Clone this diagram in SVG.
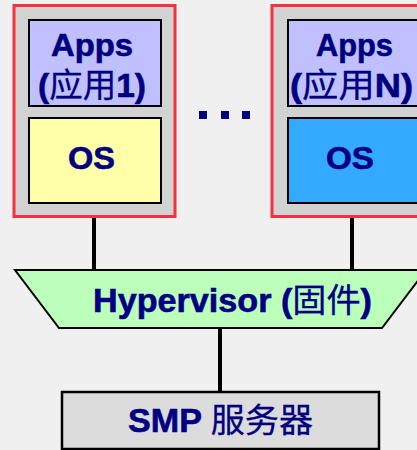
<svg xmlns="http://www.w3.org/2000/svg" width="417" height="450" viewBox="0 0 417 450">
<style>
.bg{fill:#f0f0f0}
.vm{fill:#d2d2d2;stroke:#f5303f;stroke-width:3}
.box{stroke:#000;stroke-width:2}
.apps{fill:#c0c0ff}
.t{font-family:"Liberation Sans","Noto Sans CJK SC",sans-serif;font-weight:bold;fill:#000080;stroke:#000080;stroke-width:0.6}
.cjk{font-family:"Noto Sans CJK SC",sans-serif;font-weight:normal;stroke-width:0.3}
.conn{stroke:#000;stroke-width:4;fill:none}
</style>
<rect class="bg" x="0" y="0" width="417" height="450"/>
<g id="connectors">
<line class="conn" x1="94" y1="217" x2="94" y2="271"/>
<line class="conn" x1="352" y1="217" x2="352" y2="271"/>
<line class="conn" x1="220" y1="328" x2="220" y2="392"/>
</g>
<g id="vm1">
<rect class="vm" x="14" y="5.5" width="161" height="211"/>
<rect class="box apps" x="29" y="20" width="132" height="86"/>
<text class="t" x="51" y="56" font-size="32" textLength="82" lengthAdjust="spacingAndGlyphs">Apps</text>
<text class="t" x="38" y="97" font-size="33" textLength="108" lengthAdjust="spacingAndGlyphs">(<tspan class="cjk">应用</tspan>1)</text>
<rect class="box" x="29" y="118" width="132" height="85" fill="#ffffaa"/>
<text class="t" x="68" y="169" font-size="31" textLength="47" lengthAdjust="spacingAndGlyphs">OS</text>
</g>
<g id="ellipsis" fill="#000080">
<rect x="199" y="111" width="8" height="8"/>
<rect x="221" y="111" width="8" height="8"/>
<rect x="242" y="111" width="8" height="8"/>
</g>
<g id="vmN">
<rect class="vm" x="272" y="5.5" width="161" height="211"/>
<rect class="box apps" x="288" y="20" width="132" height="86"/>
<text class="t" x="316" y="56" font-size="32" textLength="77" lengthAdjust="spacingAndGlyphs">Apps</text>
<text class="t" x="290" y="97" font-size="33" textLength="123" lengthAdjust="spacingAndGlyphs">(<tspan class="cjk">应用</tspan>N)</text>
<rect class="box" x="288" y="118" width="132" height="85" fill="#33aaff"/>
<text class="t" x="326" y="169" font-size="31" textLength="48" lengthAdjust="spacingAndGlyphs">OS</text>
</g>
<g id="hypervisor">
<polygon points="15,270 426,270 382,328 59,328" fill="#bbffbb" stroke="#000" stroke-width="2"/>
<text class="t" x="93" y="312" font-size="33" textLength="279" lengthAdjust="spacingAndGlyphs">Hypervisor (<tspan class="cjk">固件</tspan>)</text>
</g>
<g id="smp">
<rect x="62" y="392" width="317" height="57" fill="#dcdcdc" stroke="#000" stroke-width="2.5"/>
<text class="t" x="128" y="432" font-size="33" textLength="185" lengthAdjust="spacingAndGlyphs">SMP <tspan class="cjk">服务器</tspan></text>
</g>
</svg>
